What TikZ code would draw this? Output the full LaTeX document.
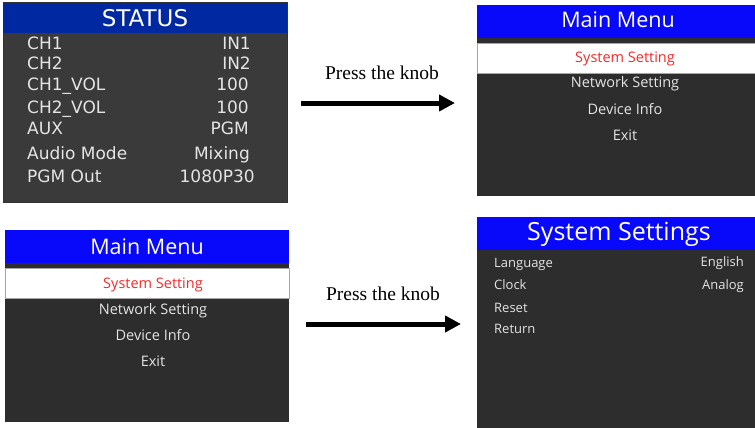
\documentclass[tikz,border=0pt]{standalone}
\usepackage{fontspec}
\setmainfont{Liberation Serif}
\newfontfamily\screenfont{Open Sans}
\newfontfamily\statusfont{DejaVu Sans}
\usetikzlibrary{arrows.meta,positioning}
\definecolor{statusblue}{RGB}{0,40,160}
\definecolor{menublue}{RGB}{8,8,250}
\definecolor{statusgray}{RGB}{58,58,58}
\definecolor{menugray}{RGB}{45,45,45}
\definecolor{lcdtext}{RGB}{228,228,228}
\definecolor{lcdred}{RGB}{250,40,40}
\tikzset{
  screen/.style={rectangle, inner sep=0pt, outer sep=0pt},
  stitem/.style={inner sep=0pt, text=lcdtext, font=\statusfont\fontsize{17}{19}\selectfont},
  item/.style={inner sep=0pt, text=lcdtext, font=\screenfont\fontsize{14.5}{16}\selectfont},
  smallitem/.style={inner sep=0pt, text=lcdtext, font=\screenfont\fontsize{13}{15}\selectfont},
  title/.style={inner sep=0pt, text=white, anchor=base},
  knob/.style={line width=5pt, -{Triangle[length=16pt,width=16pt]}},
  knoblabel/.style={font=\fontsize{19.5}{21}\selectfont, above=17pt}
}
\begin{document}
\begin{tikzpicture}[x=1pt,y=-1pt]
  \useasboundingbox (0,0) rectangle (755,428);
  % screens
  \node[screen, fill=statusgray, draw=black!80, line width=1pt,
        minimum width=284pt, minimum height=199pt] (status) at (145,102.5) {};
  \node[screen, fill=menugray, minimum width=278pt, minimum height=191pt] (menuA) at (616,100.5) {};
  \node[screen, fill=menugray, minimum width=284pt, minimum height=192pt] (menuB) at (147,326) {};
  \node[screen, fill=menugray, minimum width=278pt, minimum height=211pt] (settings) at (616,322.5) {};
  % title bars and highlights
  \fill[statusblue] (3,3) rectangle (287,33);
  \fill[menublue] (477,5) rectangle (755,38);
  \fill[menublue] (5,230) rectangle (289,263);
  \fill[menublue] (477,217) rectangle (755,250);
  \draw[fill=white, draw=black!35] (477,43) rectangle (755,73);
  \draw[fill=white, draw=black!35] (5,268) rectangle (289,298);
  % titles
  \node[title, font=\statusfont\fontsize{23}{25}\selectfont] (statustitle) at (145,27) {STATUS};
  \node[title, font=\screenfont\fontsize{21.5}{24}\selectfont] (menuAtitle) at (618,28) {Main Menu};
  \node[title, font=\screenfont\fontsize{21.5}{24}\selectfont] (menuBtitle) at (147,254) {Main Menu};
  \node[title, font=\screenfont\fontsize{25}{28}\selectfont] (settingstitle) at (619,240) {System Settings};
  % status rows
  \foreach \name/\val/\y/\r [count=\i] in {CH1/IN1/50/251, CH2/IN2/70/251,
      CH1\_VOL/100/91/249, CH2\_VOL/100/113/249, AUX/PGM/134/249,
      Audio Mode/Mixing/159/250, PGM Out/1080P30/182/255} {
    \node[stitem, anchor=base west] (stl\i) at (27,\y) {\name};
    \node[stitem, anchor=base east] (stv\i) at (\r,\y) {\val};
  }
  % main menu entries
  \node[item, anchor=base, text=lcdred] (a1) at (625,63) {System Setting};
  \node[item, anchor=base] (a2) at (625,88) {Network Setting};
  \node[item, anchor=base] (a3) at (625,114) {Device Info};
  \node[item, anchor=base] (a4) at (625,140) {Exit};
  \node[item, anchor=base, text=lcdred] (b1) at (153,288) {System Setting};
  \node[item, anchor=base] (b2) at (153,314) {Network Setting};
  \node[item, anchor=base] (b3) at (153,340) {Device Info};
  \node[item, anchor=base] (b4) at (153,366) {Exit};
  % system settings entries
  \node[smallitem, anchor=base west] (s1) at (494,267) {Language};
  \node[smallitem, anchor=base west] (s2) at (494,289) {Clock};
  \node[smallitem, anchor=base west] (s3) at (494,312) {Reset};
  \node[smallitem, anchor=base west] (s4) at (494,333) {Return};
  \node[smallitem, anchor=base east] (v1) at (744,266) {English};
  \node[smallitem, anchor=base east] (v2) at (744,289) {Analog};
  % arrows
  \draw[knob, shorten <=14pt, shorten >=22pt] ([yshift=-0.5pt]status.east) -- ([yshift=-0.5pt]status.east -| menuA.west)
    node[knoblabel, midway] (k1) {Press the knob};
  \draw[knob, shorten <=17pt, shorten >=16pt] ([yshift=2pt]menuB.east) -- ([yshift=2pt]menuB.east -| settings.west)
    node[knoblabel, midway] (k2) {Press the knob};
\end{tikzpicture}
\end{document}
